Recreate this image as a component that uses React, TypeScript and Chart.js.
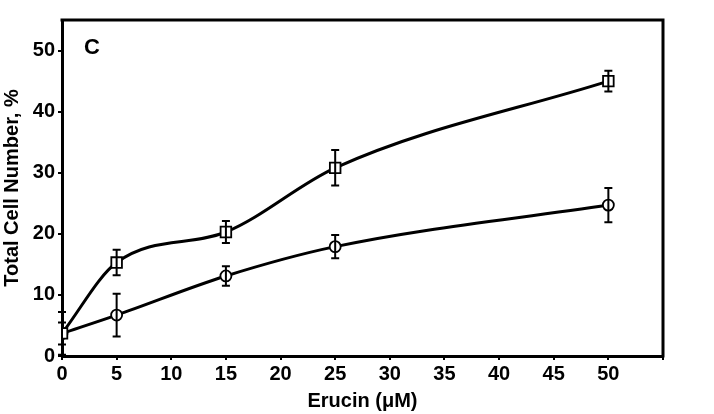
import { useEffect, useRef } from 'react';
import { Chart, registerables } from 'chart.js';

Chart.register(...registerables);

const doses = [0, 5, 15, 25, 50];
const squareValues = [3.7, 15.3, 20.3, 30.8, 45.0];
const squareErrors = [1.8, 2.1, 1.8, 2.9, 1.7];
const circleValues = [3.7, 6.7, 13.1, 17.9, 24.7];
const circleErrors = [3.5, 3.5, 1.6, 1.9, 2.8];
const xTicks = [0, 5, 10, 15, 20, 25, 30, 35, 40, 45, 50, 55];
const xTickLabels = ['0', '5', '10', '15', '20', '25', '30', '35', '40', '45', '50', ''];
const yTicks = [0, 10, 20, 30, 40, 50];
const panelLabel = 'C';
const xTitle = 'Erucin (\u03bcM)';
const yTitle = 'Total Cell Number, %';

const FONT = '"Liberation Sans", Arial, sans-serif';

const errorBars = {
  id: 'errorBars',
  afterDatasetsDraw(chart: any) {
    const ctx = chart.ctx;
    const yScale = chart.scales.y;
    const errs = [squareErrors, circleErrors];
    const vals = [squareValues, circleValues];
    ctx.save();
    ctx.strokeStyle = '#000';
    ctx.lineWidth = 2;
    chart.data.datasets.forEach((_: any, di: number) => {
      const meta = chart.getDatasetMeta(di);
      meta.data.forEach((pt: any, i: number) => {
        const v = vals[di][i];
        const e = errs[di][i];
        const x = pt.x;
        const yt = yScale.getPixelForValue(v + e);
        const yb = yScale.getPixelForValue(v - e);
        ctx.beginPath();
        ctx.moveTo(x, yt);
        ctx.lineTo(x, yb);
        ctx.moveTo(x - 4, yt);
        ctx.lineTo(x + 4, yt);
        ctx.moveTo(x - 4, yb);
        ctx.lineTo(x + 4, yb);
        ctx.stroke();
      });
    });
    ctx.restore();
  },
  afterDraw(chart: any) {
    const ctx = chart.ctx;
    const a = chart.chartArea;
    ctx.save();
    ctx.strokeStyle = '#000';
    ctx.lineWidth = 3;
    ctx.beginPath();
    ctx.moveTo(a.left - 1.5, a.top);
    ctx.lineTo(a.right, a.top);
    ctx.lineTo(a.right, a.bottom + 1.5);
    ctx.stroke();
    ctx.fillStyle = '#000';
    ctx.font = `bold 22px ${FONT}`;
    ctx.textAlign = 'left';
    ctx.textBaseline = 'middle';
    ctx.fillText(panelLabel, 84, 48);
    ctx.restore();
  },
};

export default function App() {
  const ref = useRef<HTMLCanvasElement | null>(null);
  useEffect(() => {
    if (!ref.current) return;
    const tickFont = { family: FONT, size: 20, weight: 'bold' as const };
    const titleFont = { family: FONT, size: 20, weight: 'bold' as const };
    const chart = new Chart(ref.current, {
      type: 'line',
      data: {
        datasets: [
          {
            data: doses.map((d, i) => ({ x: d, y: squareValues[i] })),
            borderColor: '#000',
            borderWidth: 3,
            backgroundColor: '#fff',
            pointStyle: 'rect',
            pointRadius: 7.5,
            pointBorderWidth: 1.8,
            pointBackgroundColor: '#fff',
            pointBorderColor: '#000',
            cubicInterpolationMode: 'monotone',
            fill: false,
          },
          {
            data: doses.map((d, i) => ({ x: d, y: circleValues[i] })),
            borderColor: '#000',
            borderWidth: 3,
            backgroundColor: '#fff',
            pointStyle: 'circle',
            pointRadius: 5.5,
            pointBorderWidth: 1.8,
            pointBackgroundColor: '#fff',
            pointBorderColor: '#000',
            cubicInterpolationMode: 'monotone',
            fill: false,
          },
        ],
      },
      options: {
        animation: false,
        responsive: false,
        layout: { padding: { top: 20, right: 51, left: 0, bottom: 0 } },
        plugins: { legend: { display: false }, tooltip: { enabled: false } },
        scales: {
          x: {
            type: 'linear',
            min: 0,
            max: 55,
            afterBuildTicks: (s: any) => {
              s.ticks = xTicks.map((v) => ({ value: v }));
            },
            afterFit: (s: any) => {
              s.height = 58;
            },
            ticks: {
              color: '#000',
              font: tickFont,
              padding: 2,
              maxRotation: 0,
              autoSkip: false,
              callback: (_v: any, i: number) => xTickLabels[i],
            },
            grid: { drawOnChartArea: false, drawTicks: true, tickLength: 4, color: '#000', lineWidth: 2 },
            border: { color: '#000', width: 3 },
            title: { display: true, text: xTitle, color: '#000', font: titleFont, padding: { top: 0, bottom: 1 } },
          },
          y: {
            type: 'linear',
            min: 0,
            max: 55,
            afterBuildTicks: (s: any) => {
              s.ticks = yTicks.map((v) => ({ value: v }));
            },
            afterFit: (s: any) => {
              s.width = 62;
            },
            ticks: { color: '#000', font: tickFont, padding: 3, autoSkip: false },
            grid: { drawOnChartArea: false, drawTicks: true, tickLength: 4, color: '#000', lineWidth: 2 },
            border: { color: '#000', width: 3 },
            title: { display: true, text: yTitle, color: '#000', font: titleFont, padding: { top: 0, bottom: 0 } },
          },
        },
      },
      plugins: [errorBars],
    } as any);
    return () => chart.destroy();
  }, []);
  return (
    <div style={{ position: 'fixed', left: 0, top: 0, width: 714, height: 414, background: '#fff' }}>
      <canvas ref={ref} width={714} height={414} />
    </div>
  );
}
